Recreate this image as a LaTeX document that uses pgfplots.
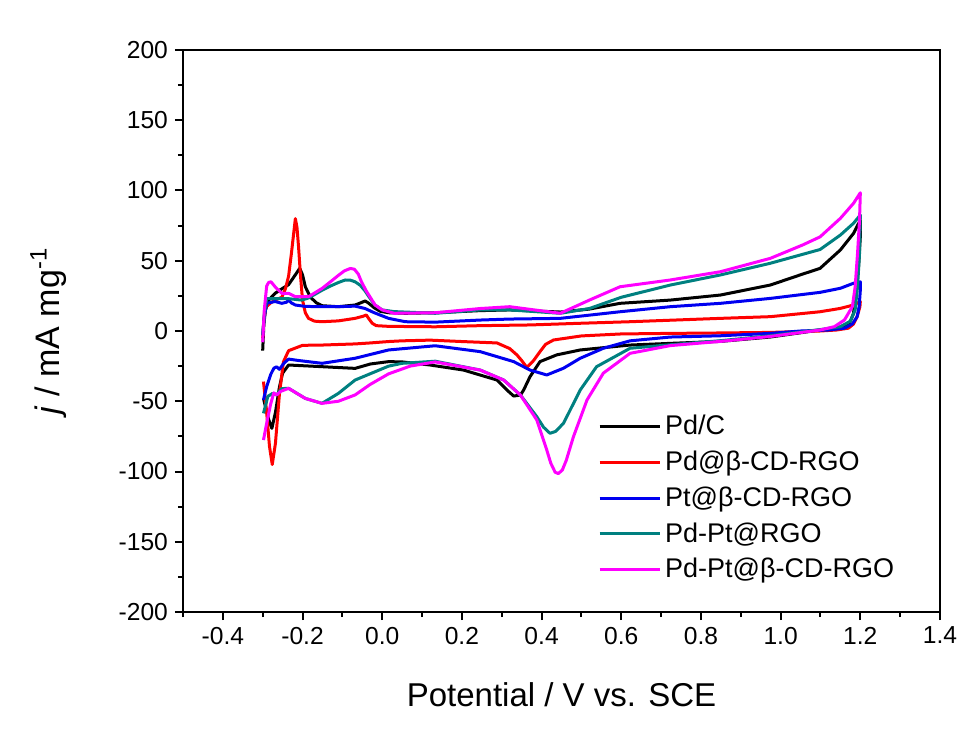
\documentclass[border=0pt]{standalone}
\usepackage{fontspec}
\setmainfont{Liberation Sans}
\usepackage{pgfplots}
\pgfplotsset{compat=1.18}
\definecolor{cteal}{RGB}{0,128,128}
\definecolor{cred}{RGB}{255,0,0}
\definecolor{cblue}{RGB}{0,0,240}
\definecolor{cmag}{RGB}{255,0,255}
\begin{document}
\begin{tikzpicture}
\begin{axis}[
 scale only axis, width=378.5pt, height=281pt,
 xmin=-0.5, xmax=1.4, ymin=-200, ymax=200,
 xtick={-0.4,-0.2,0,0.2,0.4,0.6,0.8,1.0,1.2,1.4},
 xticklabels={-0.4,-0.2,0.0,0.2,0.4,0.6,0.8,1.0,1.2,1.4},
 minor xtick={-0.5,-0.3,-0.1,0.1,0.3,0.5,0.7,0.9,1.1,1.3},
 ytick={-200,-150,-100,-50,0,50,100,150,200},
 minor ytick={-175,-125,-75,-25,25,75,125,175},
 /pgf/number format/assume math mode=true,
 tick align=outside, xtick pos=bottom, ytick pos=left,
 major tick length=4pt, minor tick length=2.5pt,
 axis line style={line width=1pt},
 tick style={line width=1pt, black},
 ticklabel style={font=\fontsize{12.3}{14}\selectfont},
 xlabel={Potential / V vs. SCE},
 ylabel={\textit{j} / mA mg\textsuperscript{-1}},
 xlabel style={font=\fontsize{16.5}{19}\selectfont, at={(axis description cs:0.5,-0.148)}, anchor=center},
 ylabel style={font=\fontsize{17}{19}\selectfont, at={(axis description cs:-0.178,0.5)}, anchor=center},
 legend style={draw=none, fill=none, at={(0.54,0.365)}, anchor=north west,
   font=\fontsize{13.5}{15}\selectfont, row sep=2.6pt},
 legend cell align=left,
 legend image code/.code={\draw[#1] (0pt,0pt) -- (30pt,0pt);},
 every axis plot/.append style={line width=1.5pt, line join=round},
]
\coordinate (sw) at (rel axis cs:0,0);
\coordinate (ne) at (rel axis cs:1,1);

% Pd/C
\addplot[black] coordinates {
(-0.300,-14) (-0.297,5) (-0.293,15) (-0.285,22) (-0.269,26.8) (-0.252,30) (-0.235,33) (-0.218,40) (-0.207,44.6) (-0.200,40) (-0.193,31.5) (-0.18,24) (-0.165,20) (-0.151,18) (-0.11,17.3) (-0.068,18.5) (-0.05,20.5) (-0.043,21.4) (-0.035,20) (-0.02,16.5) (-0.005,14) (0.016,13) (0.058,12.6) (0.133,13) (0.246,14.5) (0.32,15) (0.447,13.5) (0.52,15.6) (0.597,19.7) (0.723,22) (0.849,25.6) (0.974,32.7) (1.05,40) (1.099,44.6) (1.15,57.7) (1.183,69.5) (1.2,79)
(1.2,67) (1.195,43.4) (1.187,24.4) (1.183,12.6) (1.173,5.5) (1.15,2) (1.099,0.7) (0.974,-4.3) (0.849,-7.4) (0.723,-8.8) (0.622,-10) (0.497,-13.5) (0.438,-17) (0.396,-21.8) (0.371,-32.5) (0.355,-42) (0.347,-45.6) (0.33,-46.3) (0.313,-42) (0.288,-34.9) (0.204,-27.8) (0.12,-24.2) (0.05,-22) (0.016,-21.8) (-0.03,-23.5) (-0.068,-26.6) (-0.11,-26) (-0.151,-25.4) (-0.193,-24.8) (-0.235,-24.2) (-0.25,-30) (-0.258,-40) (-0.268,-58) (-0.277,-69.3) (-0.285,-63) (-0.292,-55) (-0.298,-48)
};
\addlegendentry{Pd/C}

% Pd@b-CD-RGO
\addplot[cred] coordinates {
(-0.300,-5) (-0.297,8) (-0.292,17) (-0.28,20) (-0.269,22) (-0.252,24) (-0.243,30) (-0.235,39) (-0.228,55) (-0.222,70) (-0.218,80) (-0.214,74) (-0.210,60) (-0.205,39) (-0.200,22) (-0.193,13) (-0.185,9) (-0.170,7) (-0.151,6.6) (-0.11,7.2) (-0.068,9) (-0.048,10.5) (-0.040,11.4) (-0.033,8.5) (-0.025,5.5) (-0.015,3.8) (0.016,3.3) (0.133,3) (0.246,3.8) (0.371,4.3) (0.497,5.5) (0.622,6.6) (0.849,9) (0.974,10.2) (1.099,13.7) (1.15,16.1) (1.183,18.5) (1.2,20.9)
(1.199,17.3) (1.192,10.2) (1.183,5) (1.17,2) (1.14,0.7) (1.099,0) (0.974,-1) (0.849,-1.4) (0.723,-1.7) (0.6,-2.1) (0.5,-3.5) (0.43,-6.4) (0.41,-9.5) (0.396,-14.7) (0.38,-21) (0.363,-25.9) (0.35,-21) (0.338,-17) (0.32,-12.5) (0.288,-8.5) (0.2,-7.5) (0.12,-6.5) (0.05,-7) (0.016,-7.5) (-0.03,-8.5) (-0.068,-9.2) (-0.151,-10) (-0.2,-10.2) (-0.235,-14) (-0.248,-22) (-0.258,-45) (-0.268,-80) (-0.276,-95) (-0.283,-82) (-0.29,-58) (-0.298,-36)
};
\addlegendentry{Pd@β-CD-RGO}

% Pt@b-CD-RGO
\addplot[cblue] coordinates {
(-0.300,-3) (-0.296,10) (-0.29,19.7) (-0.269,21) (-0.252,19.7) (-0.240,20.5) (-0.235,22) (-0.228,20) (-0.218,18.5) (-0.193,17.5) (-0.151,17.3) (-0.11,17.3) (-0.068,17.7) (-0.043,16) (-0.02,13) (0.016,9) (0.058,6.6) (0.133,6.3) (0.246,7.8) (0.32,8.5) (0.447,9) (0.597,13.7) (0.723,17.3) (0.849,19.7) (0.974,23.2) (1.099,27.5) (1.15,30.4) (1.183,34) (1.2,35)
(1.2,29) (1.197,17.3) (1.192,10.2) (1.18,5) (1.16,2) (1.12,0.7) (1.05,0) (0.974,-1.7) (0.849,-3.4) (0.723,-4.3) (0.622,-7) (0.555,-12.3) (0.497,-19.4) (0.455,-26.5) (0.413,-31.3) (0.371,-27.8) (0.33,-21.8) (0.246,-14.7) (0.133,-10.5) (0.016,-13.5) (-0.068,-19.4) (-0.151,-23) (-0.21,-21) (-0.235,-20) (-0.247,-23) (-0.258,-27.3) (-0.265,-25.5) (-0.272,-26.5) (-0.28,-31) (-0.29,-39.6) (-0.298,-49)
};
\addlegendentry{Pt@β-CD-RGO}

% Pd-Pt@RGO
\addplot[cteal] coordinates {
(-0.300,-3) (-0.296,12) (-0.29,23) (-0.269,23) (-0.235,23) (-0.202,22) (-0.185,23.5) (-0.151,29) (-0.13,32) (-0.11,34.5) (-0.093,36.3) (-0.08,36.2) (-0.068,35) (-0.055,32.5) (-0.043,28.5) (-0.03,23) (-0.018,18.5) (0.0,15) (0.03,13.8) (0.133,12.6) (0.246,15) (0.32,15) (0.447,12.6) (0.52,16) (0.6,24) (0.723,32.7) (0.849,39.9) (0.974,48.2) (1.099,58) (1.15,68.3) (1.183,76.7) (1.2,82.6)
(1.198,55.3) (1.193,31.5) (1.187,15) (1.175,7) (1.15,3.1) (1.099,1) (0.974,-3.4) (0.849,-6.9) (0.723,-9.8) (0.622,-12.3) (0.538,-25.4) (0.497,-42) (0.455,-65.7) (0.435,-71.5) (0.421,-72.8) (0.405,-68.5) (0.388,-61) (0.347,-45.6) (0.305,-34.9) (0.246,-27.8) (0.133,-21.5) (0.05,-23) (0.016,-25) (-0.068,-34.9) (-0.11,-44.4) (-0.151,-51.5) (-0.193,-48) (-0.235,-40.8) (-0.252,-41) (-0.265,-45.5) (-0.275,-44.4) (-0.287,-46.5) (-0.298,-58.6)
};
\addlegendentry{Pd-Pt@RGO}

% Pd-Pt@b-CD-RGO
\addplot[cmag] coordinates {
(-0.300,-8) (-0.296,15) (-0.29,32) (-0.285,34.6) (-0.279,35) (-0.269,31.5) (-0.252,26.8) (-0.235,26.8) (-0.218,24.4) (-0.185,24.4) (-0.151,30.3) (-0.13,35) (-0.110,39.6) (-0.095,42.8) (-0.08,44.5) (-0.07,44) (-0.06,40.5) (-0.052,35) (-0.04,28.5) (-0.030,24) (-0.018,18.5) (0.0,15) (0.03,12.6) (0.133,13) (0.246,16) (0.32,17.3) (0.447,12.6) (0.52,22) (0.597,31.5) (0.723,36.3) (0.849,42.2) (0.974,51.7) (1.055,61.2) (1.099,67) (1.15,80.2) (1.183,90.9) (1.2,98.4)
(1.198,79) (1.193,55.3) (1.187,31.5) (1.18,17.3) (1.16,7.8) (1.135,3.1) (1.099,0.7) (0.974,-3.9) (0.849,-7.4) (0.723,-10.4) (0.622,-15.9) (0.555,-30) (0.514,-49.1) (0.48,-75.2) (0.462,-92) (0.452,-99) (0.442,-101.5) (0.434,-100.5) (0.423,-94) (0.413,-84.7) (0.388,-63.3) (0.347,-45.6) (0.305,-34.9) (0.246,-27.8) (0.133,-22) (0.07,-25) (0.016,-30.5) (-0.03,-38) (-0.068,-45.5) (-0.11,-50) (-0.151,-51.5) (-0.193,-48) (-0.235,-40.8) (-0.255,-43) (-0.265,-45.5) (-0.272,-44) (-0.28,-52) (-0.29,-65.7) (-0.298,-77.6)
};
\addlegendentry{Pd-Pt@β-CD-RGO}
\end{axis}
\pgfresetboundingbox
\path ([xshift=-91.5pt,yshift=-60.5pt]sw) rectangle ([xshift=15.5pt,yshift=25pt]ne);
\end{tikzpicture}
\end{document}
